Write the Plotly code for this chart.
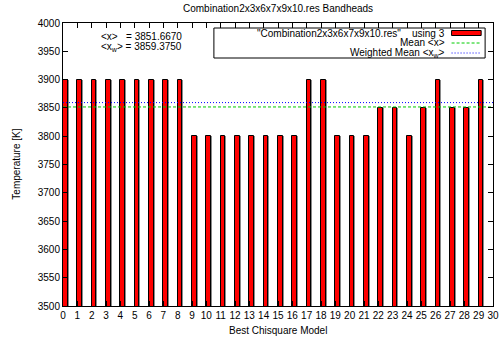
import plotly.graph_objects as go

# Best-fit bandhead temperatures for each chi-square model
models = list(range(30))
temperature = [3900, 3900, 3900, 3900, 3900, 3900, 3900, 3900, 3900,
               3800, 3800, 3800, 3800, 3800, 3800, 3800, 3800,
               3900, 3900,
               3800, 3800, 3800,
               3850, 3850, 3800, 3850, 3900, 3850, 3850, 3900]
mean_x = 3851.6670
weighted_mean_x = 3859.3750
x_ticks = list(range(31))
y_ticks = list(range(3500, 4001, 50))

FONT = "Liberation Sans, Arial, sans-serif"
BAR_W = 0.33

fig = go.Figure()

# soft grey shading on the right edge of each box
fig.add_trace(go.Bar(x=models, y=temperature, width=BAR_W, offset=0.06,
                     marker=dict(color="#8a8a8a", line=dict(width=0)),
                     hoverinfo="skip", showlegend=False))
fig.add_trace(go.Bar(x=models, y=temperature, width=BAR_W, offset=0.0,
                     marker=dict(color="#ff0000", line=dict(color="black", width=1)),
                     showlegend=False))

# mean and weighted mean across the full model range
fig.add_trace(go.Scatter(x=[0, 30], y=[mean_x, mean_x], mode="lines",
                         line=dict(color="#00cc00", width=1, dash="3px,2px"),
                         showlegend=False))
fig.add_trace(go.Scatter(x=[0, 30], y=[weighted_mean_x, weighted_mean_x], mode="lines",
                         line=dict(color="#0000ff", width=1, dash="1px,2px"),
                         showlegend=False))

axis_common = dict(showline=True, linecolor="black", linewidth=1, mirror="allticks",
                   ticks="inside", ticklen=5, tickcolor="black", showgrid=False,
                   zeroline=False, tickfont=dict(family=FONT, size=10, color="black"))

fig.update_xaxes(range=[0, 30], tickvals=x_ticks, ticktext=[str(v) for v in x_ticks],
                 ticklabeloverflow="allow", **axis_common)
fig.update_yaxes(range=[3500, 4000], tickvals=y_ticks, ticktext=[str(v) for v in y_ticks],
                 **axis_common)

shapes = []
annotations = []

# key box drawn in pixel-like paper coordinates
W, H = 501, 344
L, R, T, B = 63, 499, 23, 306


def px(x):
    return (x - L) / (R - L)


def py(y):
    return (B - y) / (B - T)


shapes.append(dict(type="rect", xref="paper", yref="paper",
                   x0=px(216), x1=px(491), y0=py(58), y1=py(28),
                   line=dict(color="black", width=1), fillcolor="white"))
shapes.append(dict(type="rect", xref="paper", yref="paper",
                   x0=px(457), x1=px(487), y0=py(35.5), y1=py(30.5),
                   line=dict(color="black", width=1), fillcolor="#ff0000"))
shapes.append(dict(type="line", xref="paper", yref="paper",
                   x0=px(457), x1=px(487), y0=py(43), y1=py(43),
                   line=dict(color="#00cc00", width=1, dash="3px,2px")))
shapes.append(dict(type="line", xref="paper", yref="paper",
                   x0=px(457), x1=px(487), y0=py(53), y1=py(53),
                   line=dict(color="#0000ff", width=1, dash="1px,2px")))

key_lines = ['"Combination2x3x6x7x9x10.res"    using 3',
             "Mean &lt;x&gt;",
             "Weighted Mean &lt;x<sub>w</sub>&gt;"]
for txt, yy in zip(key_lines, [33, 43, 53]):
    annotations.append(dict(xref="paper", yref="paper", x=px(452), y=py(yy),
                            text=txt, showarrow=False, xanchor="right", yanchor="middle",
                            font=dict(family=FONT, size=10, color="black")))

annotations.append(dict(xref="paper", yref="paper", x=px(100), y=py(36),
                        text="&lt;x&gt;   = %.4f" % mean_x, showarrow=False,
                        xanchor="left", yanchor="middle",
                        font=dict(family=FONT, size=10, color="black")))
annotations.append(dict(xref="paper", yref="paper", x=px(100), y=py(47),
                        text="&lt;x<sub>w</sub>&gt; = %.4f" % weighted_mean_x, showarrow=False,
                        xanchor="left", yanchor="middle",
                        font=dict(family=FONT, size=10, color="black")))

# titles
annotations.append(dict(xref="paper", yref="paper", x=px(281), y=py(8),
                        text="Combination2x3x6x7x9x10.res Bandheads", showarrow=False,
                        xanchor="center", yanchor="middle",
                        font=dict(family=FONT, size=10, color="black")))
annotations.append(dict(xref="paper", yref="paper", x=px(281), y=py(330),
                        text="Best Chisquare Model", showarrow=False,
                        xanchor="center", yanchor="middle",
                        font=dict(family=FONT, size=10, color="black")))
annotations.append(dict(xref="paper", yref="paper", x=px(15), y=py(164),
                        text="Temperature [K]", showarrow=False, textangle=-90,
                        xanchor="center", yanchor="middle",
                        font=dict(family=FONT, size=10, color="black")))

fig.update_layout(width=W, height=H, margin=dict(l=L, r=W - R, t=T, b=H - B),
                  plot_bgcolor="white", paper_bgcolor="white", barmode="overlay",
                  bargap=0, shapes=shapes, annotations=annotations, showlegend=False)

fig.write_html("out.html")
